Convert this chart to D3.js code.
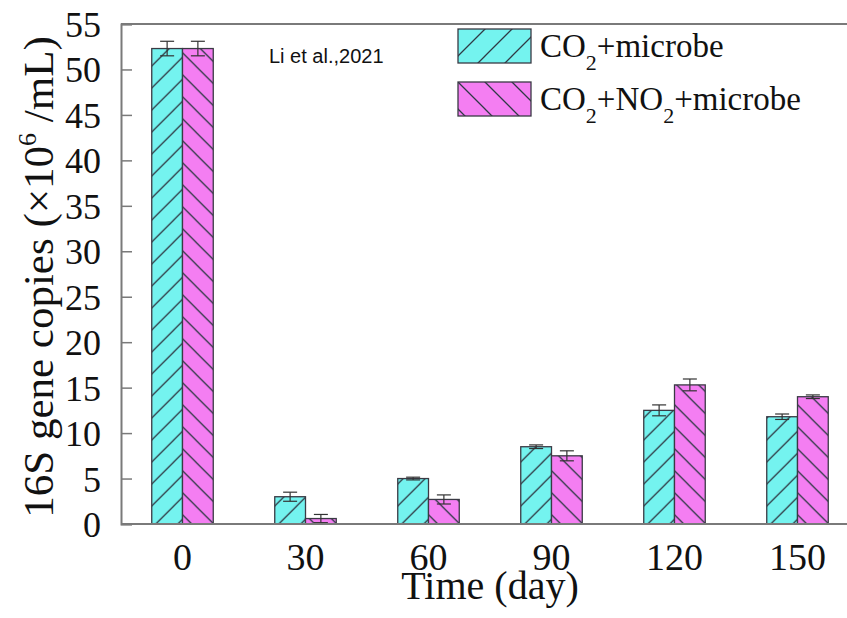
<!DOCTYPE html>
<html>
<head>
<meta charset="utf-8">
<script src="https://cdn.jsdelivr.net/npm/d3@7"></script>
<style>
  body { margin: 0; background: #fff; }
  text { fill: #111; }
</style>
</head>
<body>
<svg id="chart" width="847" height="618"></svg>
<script>
// data
const days = ["0", "30", "60", "90", "120", "150"];
const seriesKeys = ["co2", "no2"];
const co2Values = [52.3, 3.0, 5.0, 8.5, 12.5, 11.8];
const co2Errors = [0.8, 0.5, 0.15, 0.2, 0.6, 0.3];
const no2Values = [52.3, 0.6, 2.7, 7.5, 15.3, 14.0];
const no2Errors = [0.8, 0.45, 0.5, 0.55, 0.65, 0.2];
const yTicks = [0, 5, 10, 15, 20, 25, 30, 35, 40, 45, 50, 55];
const legendLabels = [
  [["CO", 0], ["2", 1], ["+microbe", 0]],
  [["CO", 0], ["2", 1], ["+NO", 0], ["2", 1], ["+microbe", 0]]
];

const width = 847, height = 618;
const margin = { top: 24, left: 121, bottom: 94 };
const serif = "'Liberation Serif', 'Times New Roman', serif";

const svg = d3.select("#chart");

const colors = { co2: "#74f3ef", no2: "#f47ef2" };

// hatch patterns
const defs = svg.append("defs");
const hatch = (id, fill, size, dir) => {
  const p = defs.append("pattern")
    .attr("id", id)
    .attr("patternUnits", "userSpaceOnUse")
    .attr("width", size)
    .attr("height", size);
  p.append("rect").attr("width", size).attr("height", size).attr("fill", fill);
  const s = size, h = size / 2;
  const d = dir === "/"
    ? `M0,${s}L${s},0M${-h},${h}L${h},${-h}M${h},${s + h}L${s + h},${h}`
    : `M0,0L${s},${s}M${-h},${h}L${h},${s + h}M${h},${-h}L${s + h},${h}`;
  p.append("path").attr("d", d).attr("stroke", "#2f3a45").attr("stroke-width", 1.3);
};
hatch("h-co2", colors.co2, 22, "/");
hatch("h-no2", colors.no2, 22, "\\");
hatch("hl-co2", colors.co2, 27, "/");
hatch("hl-no2", colors.no2, 27, "\\");

const x0 = d3.scaleBand()
  .domain(days)
  .range([margin.left, 859])
  .paddingInner(0.5)
  .paddingOuter(0.25);

const x1 = d3.scaleBand()
  .domain(seriesKeys)
  .range([0, x0.bandwidth()]);

const y = d3.scaleLinear()
  .domain([0, 55])
  .range([height - margin.bottom, margin.top]);

const rows = days.map((d, i) => ({
  day: d,
  bars: [
    { key: "co2", value: co2Values[i], err: co2Errors[i] },
    { key: "no2", value: no2Values[i], err: no2Errors[i] }
  ]
}));

// bars
const groups = svg.append("g")
  .selectAll("g")
  .data(rows)
  .join("g")
  .attr("transform", d => `translate(${x0(d.day)},0)`);

groups.selectAll("rect")
  .data(d => d.bars)
  .join("rect")
  .attr("x", d => x1(d.key))
  .attr("y", d => y(d.value))
  .attr("width", x1.bandwidth())
  .attr("height", d => y(0) - y(d.value))
  .attr("fill", d => `url(#h-${d.key})`)
  .attr("stroke", "#3a3a44")
  .attr("stroke-width", 1.3);

// error bars
const cap = 7;
const err = groups.selectAll("g.err")
  .data(d => d.bars)
  .join("g")
  .attr("class", "err")
  .attr("stroke", "#333")
  .attr("stroke-width", 1.2);

err.append("line")
  .attr("x1", d => x1(d.key) + x1.bandwidth() / 2)
  .attr("x2", d => x1(d.key) + x1.bandwidth() / 2)
  .attr("y1", d => y(d.value - d.err))
  .attr("y2", d => y(d.value + d.err));
err.append("line")
  .attr("x1", d => x1(d.key) + x1.bandwidth() / 2 - cap)
  .attr("x2", d => x1(d.key) + x1.bandwidth() / 2 + cap)
  .attr("y1", d => y(d.value + d.err))
  .attr("y2", d => y(d.value + d.err));
err.append("line")
  .attr("x1", d => x1(d.key) + x1.bandwidth() / 2 - cap)
  .attr("x2", d => x1(d.key) + x1.bandwidth() / 2 + cap)
  .attr("y1", d => y(d.value - d.err))
  .attr("y2", d => y(d.value - d.err));

// frame lines (bottom, top)
const frame = svg.append("g").attr("stroke", "#7a7a7a").attr("stroke-width", 2);
frame.append("line").attr("x1", margin.left).attr("x2", width).attr("y1", y(0)).attr("y2", y(0));
frame.append("line").attr("x1", margin.left).attr("x2", width).attr("y1", y(55)).attr("y2", y(55));

// y axis with inward ticks
const yAxis = svg.append("g")
  .attr("transform", `translate(${margin.left},0)`)
  .call(d3.axisRight(y).tickValues(yTicks).tickSize(11).tickFormat(""));
yAxis.select(".domain").attr("stroke", "#7a7a7a").attr("stroke-width", 2);
yAxis.selectAll(".tick line").attr("stroke", "#7a7a7a").attr("stroke-width", 1.5);

svg.append("g")
  .selectAll("text")
  .data(yTicks)
  .join("text")
  .attr("x", 101)
  .attr("y", d => y(d))
  .attr("dy", "0.36em")
  .attr("text-anchor", "end")
  .style("font-family", serif)
  .style("font-size", "36px")
  .text(d => d);

// x axis labels
const xAxis = svg.append("g")
  .attr("transform", `translate(0,${y(0)})`)
  .call(d3.axisBottom(x0).tickSize(0).tickPadding(0));
xAxis.select(".domain").remove();
xAxis.selectAll(".tick text")
  .attr("y", 46)
  .attr("dy", 0)
  .style("font-family", serif)
  .style("font-size", "38px")
  .style("fill", "#111");

// axis titles
svg.append("text")
  .attr("x", 490)
  .attr("y", 599)
  .attr("text-anchor", "middle")
  .style("font-family", serif)
  .style("font-size", "40px")
  .text("Time (day)");

const yTitle = svg.append("text")
  .attr("transform", `translate(53,277) rotate(-90)`)
  .attr("text-anchor", "middle")
  .style("font-family", serif)
  .style("font-size", "43px");
yTitle.append("tspan").text("16S gene copies (×10");
yTitle.append("tspan").attr("dy", -17).style("font-size", "26px").text("6");
yTitle.append("tspan").attr("dy", 17).text(" /mL)");

// citation
svg.append("text")
  .attr("x", 269)
  .attr("y", 63)
  .style("font-family", "'Liberation Sans', Arial, sans-serif")
  .style("font-size", "20px")
  .text("Li et al.,2021");

// legend
const legend = svg.append("g")
  .selectAll("g")
  .data(seriesKeys)
  .join("g")
  .attr("transform", (d, i) => `translate(458,${29 + i * 53})`);

legend.append("rect")
  .attr("width", 73)
  .attr("height", 34)
  .attr("fill", d => `url(#hl-${d})`)
  .attr("stroke", "#3a3a44")
  .attr("stroke-width", 1.3);

legend.each(function(d, i) {
  const t = d3.select(this).append("text")
    .attr("x", 82)
    .attr("y", 28)
    .style("font-family", serif)
    .style("font-size", "33px");
  let shift = 0;
  legendLabels[i].forEach(([s, sub]) => {
    const want = sub ? 13 : 0;
    t.append("tspan")
      .attr("dy", want - shift)
      .style("font-size", sub ? "22px" : "33px")
      .text(s);
    shift = want;
  });
});
</script>
</body>
</html>
